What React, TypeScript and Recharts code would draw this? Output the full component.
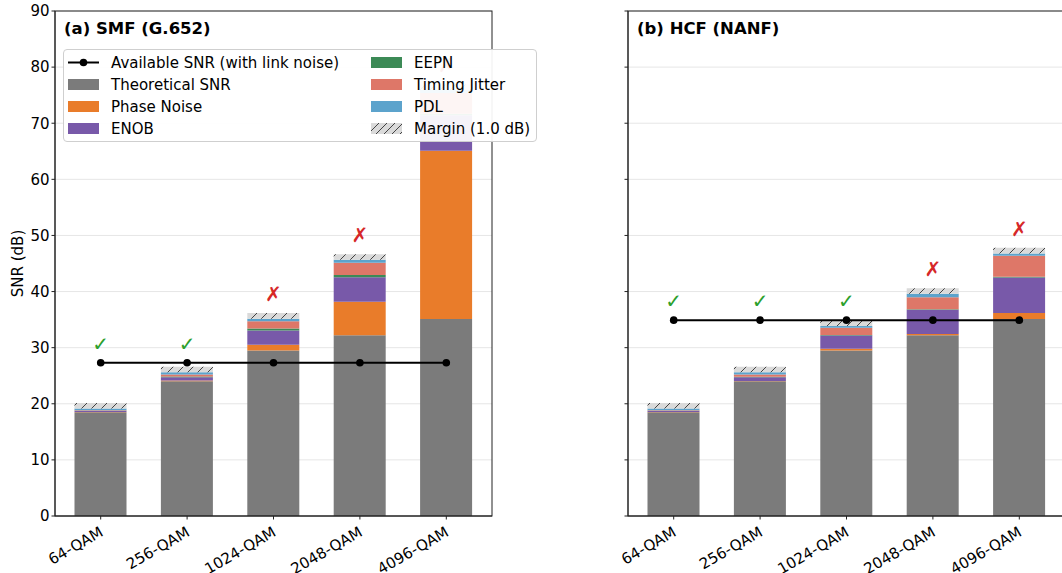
import { ComposedChart, Bar, Line, XAxis, YAxis, CartesianGrid } from "recharts";

// Modulation formats on the x axis
const categories = ["64-QAM", "256-QAM", "1024-QAM", "2048-QAM", "4096-QAM"];

// Theoretical SNR requirement (dB), same for both fibres
const theoreticalSnr = [18.5, 24.0, 29.5, 32.2, 35.1];

// SMF (G.652) penalty contributions (dB)
const smfPhaseNoise = [0.03, 0.15, 1.0, 6.0, 30.0];
const smfEnob = [0.2, 0.6, 2.55, 4.35, 6.3];
const smfEepn = [0.03, 0.1, 0.35, 0.4, 0.3];
const smfTimingJitter = [0.1, 0.35, 1.3, 2.2, 3.7];
const smfPdl = [0.3, 0.4, 0.47, 0.5, 0.5];
const smfAvailable = [27.3, 27.3, 27.3, 27.3, 27.3];

// HCF (NANF) penalty contributions (dB)
const hcfPhaseNoise = [0.02, 0.05, 0.3, 0.25, 1.07];
const hcfEnob = [0.2, 0.7, 2.35, 4.3, 6.35];
const hcfEepn = [0.02, 0.05, 0.1, 0.1, 0.1];
const hcfTimingJitter = [0.1, 0.4, 1.3, 2.15, 3.75];
const hcfPdl = [0.3, 0.4, 0.3, 0.6, 0.42];
const hcfAvailable = [34.9, 34.9, 34.9, 34.9, 34.9];

const marginDb = [1.0, 1.0, 1.0, 1.0, 1.0];
const yTicks = [0, 10, 20, 30, 40, 50, 60, 70, 80, 90];

const FONT = "'DejaVu Sans', sans-serif";
const C = {
  theo: "#7b7b7b",
  pn: "#e97c2a",
  enob: "#7859a9",
  eepn: "#3c8a56",
  tj: "#de7768",
  pdl: "#5ca3cc",
  hatchBg: "#dadada",
  hatch: "#444",
};

function buildRows(
  pn: number[],
  enob: number[],
  eepn: number[],
  tj: number[],
  pdl: number[],
  avail: number[]
) {
  return categories.map((cat, i) => {
    const total =
      theoreticalSnr[i] + pn[i] + enob[i] + eepn[i] + tj[i] + pdl[i] + marginDb[i];
    return {
      cat,
      theo: theoreticalSnr[i],
      pn: pn[i],
      enob: enob[i],
      eepn: eepn[i],
      tj: tj[i],
      pdl: pdl[i],
      margin: marginDb[i],
      avail: avail[i],
      ok: total <= avail[i],
      mark: Math.max(total, avail[i]) + 3.4,
    };
  });
}

const smfRows = buildRows(smfPhaseNoise, smfEnob, smfEepn, smfTimingJitter, smfPdl, smfAvailable);
const hcfRows = buildRows(hcfPhaseNoise, hcfEnob, hcfEepn, hcfTimingJitter, hcfPdl, hcfAvailable);

function XTick(props: any) {
  const { x, y, payload } = props;
  return (
    <g transform={`translate(${x - 2},${y + 4})`}>
      <text
        x={0}
        y={0}
        dy={11}
        textAnchor="end"
        transform="rotate(-30)"
        fontSize={15}
        fontFamily={FONT}
        fill="#000"
      >
        {payload.value}
      </text>
    </g>
  );
}

function renderMark(props: any) {
  const { cx, cy, payload, index } = props;
  return (
    <text
      key={`m-${index}`}
      x={cx}
      y={cy}
      textAnchor="middle"
      dominantBaseline="central"
      fontSize={20}
      fontWeight="bold"
      fontFamily={FONT}
      fill={payload.ok ? "#2ca02c" : "#d62728"}
    >
      {payload.ok ? "\u2713" : "\u2717"}
    </text>
  );
}

function Panel({ rows, id, yLabels }: { rows: any[]; id: string; yLabels: boolean }) {
  const barProps = { stackId: "s", barSize: 52, isAnimationActive: false };
  return (
    <ComposedChart
      width={500}
      height={573}
      data={rows}
      margin={{ top: 11, right: 8, bottom: 0, left: 0 }}
    >
      <defs>
        <pattern id={id} patternUnits="userSpaceOnUse" width={10} height={10}>
          <rect width={10} height={10} fill={C.hatchBg} />
          <path d="M0,10 L10,0 M-1,1 L1,-1 M9,11 L11,9" stroke={C.hatch} strokeWidth={1} />
        </pattern>
      </defs>
      <CartesianGrid vertical={false} stroke="#e6e6e6" />
      <XAxis
        dataKey="cat"
        height={57}
        interval={0}
        tick={<XTick />}
        tickSize={3.5}
        stroke="#222"
        padding={{ left: 2.5, right: 2.5 }}
      />
      <YAxis
        domain={[0, 90]}
        ticks={yTicks}
        width={55}
        tickSize={3.5}
        stroke="#222"
        tick={{ fill: "#000", fontSize: 15, fontFamily: FONT }}
        tickFormatter={yLabels ? undefined : () => ""}
      />
      <Bar dataKey="theo" fill={C.theo} {...barProps} />
      <Bar dataKey="pn" fill={C.pn} {...barProps} />
      <Bar dataKey="enob" fill={C.enob} {...barProps} />
      <Bar dataKey="eepn" fill={C.eepn} {...barProps} />
      <Bar dataKey="tj" fill={C.tj} {...barProps} />
      <Bar dataKey="pdl" fill={C.pdl} {...barProps} />
      <Bar dataKey="margin" fill={`url(#${id})`} {...barProps} />
      <Line
        dataKey="avail"
        stroke="#000"
        strokeWidth={2}
        dot={{ r: 3.8, fill: "#000", stroke: "#000", strokeWidth: 0 }}
        activeDot={false}
        isAnimationActive={false}
      />
      <Line
        dataKey="mark"
        stroke="none"
        dot={renderMark}
        activeDot={false}
        isAnimationActive={false}
      />
    </ComposedChart>
  );
}

const legendLeft = [
  { kind: "line", label: "Available SNR (with link noise)" },
  { kind: "box", color: C.theo, label: "Theoretical SNR" },
  { kind: "box", color: C.pn, label: "Phase Noise" },
  { kind: "box", color: C.enob, label: "ENOB" },
];
const legendRight = [
  { kind: "box", color: C.eepn, label: "EEPN" },
  { kind: "box", color: C.tj, label: "Timing Jitter" },
  { kind: "box", color: C.pdl, label: "PDL" },
  { kind: "hatch", label: "Margin (1.0 dB)" },
];

function Handle({ kind, color }: { kind: string; color?: string }) {
  return (
    <svg width={31} height={11} style={{ display: "block" }}>
      <defs>
        <pattern id="lgHatch" patternUnits="userSpaceOnUse" width={8} height={8}>
          <rect width={8} height={8} fill={C.hatchBg} />
          <path d="M0,8 L8,0 M-1,1 L1,-1 M7,9 L9,7" stroke={C.hatch} strokeWidth={1} />
        </pattern>
      </defs>
      {kind === "line" ? (
        <>
          <line x1={0} y1={5.5} x2={31} y2={5.5} stroke="#000" strokeWidth={2} />
          <circle cx={15.5} cy={5.5} r={3.8} fill="#000" />
        </>
      ) : (
        <rect width={31} height={11} fill={kind === "hatch" ? "url(#lgHatch)" : color} />
      )}
    </svg>
  );
}

function LegendBox() {
  const rowY = [12.5, 34.5, 56.5, 78.5];
  const entry = (e: any, i: number, hx: number, tx: number) => (
    <div key={e.label}>
      <div style={{ position: "absolute", left: hx, top: rowY[i] - 5.5 }}>
        <Handle kind={e.kind} color={e.color} />
      </div>
      <div
        style={{
          position: "absolute",
          left: tx,
          top: rowY[i] - 9,
          height: 18,
          lineHeight: "18px",
          fontSize: 15,
          whiteSpace: "nowrap",
        }}
      >
        {e.label}
      </div>
    </div>
  );
  return (
    <div
      style={{
        position: "absolute",
        left: 63,
        top: 49,
        width: 474,
        height: 93,
        boxSizing: "border-box",
        background: "rgba(255,255,255,0.93)",
        border: "1px solid #cfcfcf",
        borderRadius: 4,
        fontFamily: FONT,
        color: "#000",
      }}
    >
      {legendLeft.map((e, i) => entry(e, i, 4, 47))}
      {legendRight.map((e, i) => entry(e, i, 307, 350))}
    </div>
  );
}

export default function App() {
  return (
    <div
      style={{
        position: "fixed",
        left: 0,
        top: 0,
        width: 1062,
        height: 573,
        overflow: "hidden",
        background: "#fff",
        fontFamily: FONT,
      }}
    >
      <div style={{ position: "absolute", left: 0, top: 0 }}>
        <Panel rows={smfRows} id="hatchA" yLabels={true} />
      </div>
      <div style={{ position: "absolute", left: 573, top: 0 }}>
        <Panel rows={hcfRows} id="hatchB" yLabels={false} />
      </div>
      {/* axes frames, panel titles and y label */}
      <svg
        width={1062}
        height={573}
        style={{ position: "absolute", left: 0, top: 0, pointerEvents: "none" }}
      >
        <rect x={55} y={11} width={437} height={505} fill="none" stroke="#222" strokeWidth={1} />
        <rect x={628} y={11} width={437} height={505} fill="none" stroke="#222" strokeWidth={1} />
        <text x={64} y={34} fontSize={16.5} fontWeight="bold" fontFamily={FONT} fill="#000">
          (a) SMF (G.652)
        </text>
        <text x={637} y={34} fontSize={16.5} fontWeight="bold" fontFamily={FONT} fill="#000">
          (b) HCF (NANF)
        </text>
        <text
          x={18}
          y={263.5}
          transform="rotate(-90 18 263.5)"
          textAnchor="middle"
          dominantBaseline="central"
          fontSize={15}
          fontFamily={FONT}
          fill="#000"
        >
          SNR (dB)
        </text>
      </svg>
      <LegendBox />
    </div>
  );
}
